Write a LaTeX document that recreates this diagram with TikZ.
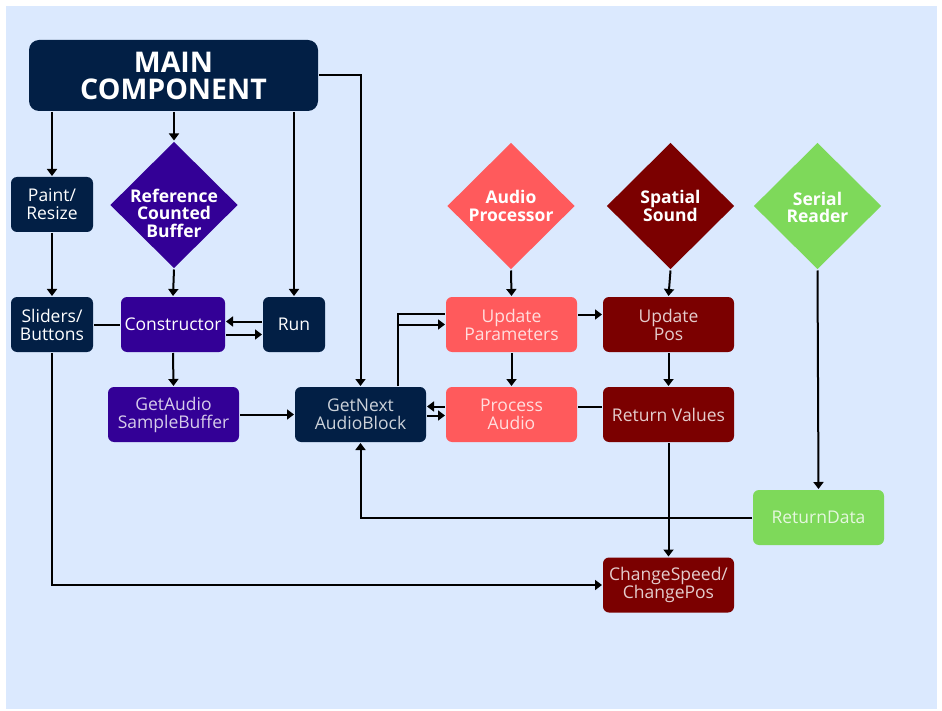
\documentclass[tikz,border=0pt]{standalone}
\usepackage{fontspec}
\setmainfont{Open Sans}
\usetikzlibrary{shapes.geometric,arrows.meta}

\definecolor{navy}{RGB}{2,31,69}
\definecolor{violet}{RGB}{51,0,150}
\definecolor{salmon}{RGB}{255,90,92}
\definecolor{maroon}{RGB}{123,0,0}
\definecolor{lime}{RGB}{126,217,90}
\definecolor{paper}{RGB}{219,233,254}

\tikzset{
  box/.style={rounded corners=6pt, minimum width=131pt, minimum height=55pt,
    inner sep=0pt, align=center, text=white, font=\fontsize{17.5}{18}\selectfont},
  smallbox/.style={box, minimum width=82pt},
  soft/.style={text opacity=0.8},
  diam/.style={diamond, minimum width=128pt, minimum height=127pt, inner sep=0pt},
  dtext/.style={align=center, text=white, font=\bfseries\fontsize{17.5}{17.5}\selectfont},
  arr/.style={-{Triangle[length=7pt,width=10pt]}},
}

\begin{document}
\begin{tikzpicture}[x=1pt, y=-1pt, every path/.style={line width=2pt}]
  \useasboundingbox (0,0) rectangle (942,711);
  \fill[white] (0,0) rectangle (942,711);
  \fill[paper] (6,6) rectangle (937,709);

  % top level component
  \node[box, fill=navy, minimum width=289pt, minimum height=71pt,
        font=\bfseries\fontsize{28.5}{27}\selectfont, rounded corners=10pt]
        (main) at (173.5,75.5) {MAIN\\COMPONENT};

  % left column
  \node[smallbox, fill=navy] (paint) at (52,204.5) {Paint/\\Resize};
  \node[smallbox, fill=navy] (sliders) at (52,324.5) {Sliders/\\Buttons};

  % buffer branch
  \node[diam, fill=violet, label={[dtext, yshift=-8pt]center:{Reference\\Counted\\Buffer}}] (rcb) at (174,205) {};
  \node[box, fill=violet, minimum width=104pt] (ctor) at (173,324.5) {Constructor};
  \node[box, fill=violet, soft] (getaudio) at (173.5,414.5) {GetAudio\\SampleBuffer};
  \node[box, fill=navy, minimum width=62pt] (run) at (294,324.5) {Run};
  \node[box, fill=navy, soft] (getnext) at (360.5,414.5) {GetNext\\AudioBlock};

  % audio processor branch
  \node[diam, fill=salmon, label={[dtext]center:{Audio\\Processor}}] (ap) at (511,206) {};
  \node[box, fill=salmon, soft] (up) at (511.5,324.5) {Update\\Parameters};
  \node[box, fill=salmon, soft] (pa) at (511.5,414.5) {Process\\Audio};

  % spatial sound branch
  \node[diam, fill=maroon, label={[dtext]center:{Spatial\\Sound}}] (ss) at (670.5,206) {};
  \node[box, fill=maroon, soft] (upos) at (668.5,324.5) {Update\\Pos};
  \node[box, fill=maroon, soft] (rv) at (668.5,414.5) {Return Values};
  \node[box, fill=maroon, soft] (cs) at (668.5,585) {ChangeSpeed/\\ChangePos};

  % serial reader branch
  \node[diam, fill=lime, label={[dtext, yshift=-1.5pt]center:{Serial\\Reader}}] (sr) at (817.5,206) {};
  \node[box, fill=lime, soft] (rd) at (818.5,517.5) {ReturnData};

  % connectors from the main component
  \draw[arr] (paint |- main.south) -- (paint.north);
  \draw[arr] (rcb |- main.south) -- (rcb.north);
  \draw[arr] (run |- main.south) -- (run.north);
  \draw[arr] (main.east) -| (getnext.north);

  % left side
  \draw[arr] (paint.south) -- (sliders.north);
  \draw[arr] (rcb.south) -- (ctor.north);
  \draw (sliders.east) -- (ctor.west);
  \draw[arr] ([yshift=3pt]run.west) -- ([yshift=3pt]ctor.east);
  \draw[arr] ([yshift=-10pt]ctor.east) -- ([yshift=-10pt]run.west);
  \draw[arr] (ctor.south) -- (getaudio.north);
  \draw[arr] (getaudio.east) -- (getnext.west);

  % audio block exchange
  \coordinate (gnup) at ([xshift=37.5pt]getnext.north);
  \draw (gnup) |- ([yshift=11pt]up.west);
  \draw[arr] (gnup |- up.west) -- (up.west);
  \draw[arr] (up.south) -- (pa.north);
  \draw[arr] ([yshift=8pt]pa.west) -- ([yshift=8pt]getnext.east);
  \draw[arr] ([yshift=-1pt]getnext.east) -- ([yshift=-1pt]pa.west);
  \draw ([yshift=8pt]rv.west) -- ([yshift=8pt]pa.east);
  \draw[arr] ([yshift=10pt]up.east) -- ([yshift=10pt]upos.west);

  % diamonds to their boxes
  \draw[arr] (ap.south) -- (up.north);
  \draw[arr] (ss.south) -- (upos.north);
  \draw[arr] (upos.south) -- (rv.north);
  \draw[arr] (sr.south) -- (rd.north);

  % long returns
  \draw[arr] (rd.west) -| (getnext.south);
  \draw[arr] (rv.south) -- (cs.north);
  \draw[arr] (sliders.south) |- (cs.west);
\end{tikzpicture}
\end{document}
